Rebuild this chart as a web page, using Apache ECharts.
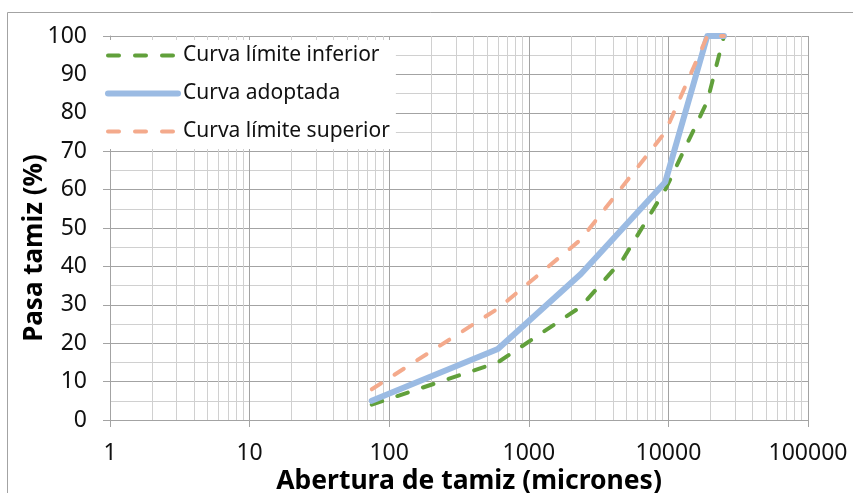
<!DOCTYPE html>
<html><head><meta charset="utf-8">
<script src="https://cdn.jsdelivr.net/npm/echarts@6/dist/echarts.min.js"></script>
<style>html,body{margin:0;padding:0;background:#fff}#c{width:853px;height:493px}</style>
</head><body><div id="c"></div>
<script>
// ---- data ----
const seriesNames = ['Curva límite inferior', 'Curva adoptada', 'Curva límite superior'];
const lowerSieves = [75, 600, 2360, 4750, 9500, 19000, 25000];
const lowerPass   = [4, 15, 29.5, 42, 60, 83, 100];
const adoptedSieves = [75, 600, 2360, 9500, 19000, 25000];
const adoptedPass   = [5, 18.5, 38, 62, 100, 100];
const upperSieves = [75, 600, 2360, 9500, 19000, 25000];
const upperPass   = [8, 29, 47, 75, 100, 100];
const xTickLabels = ['1', '10', '100', '1000', '10000', '100000'];
const xTitle = 'Abertura de tamiz (micrones)';
const yTitle = 'Pasa tamiz (%)';

// minor log gridline values (2..9 of each decade)
const minorX = [];
for (let d = 1; d <= 10000; d *= 10) for (let k = 2; k <= 9; k++) minorX.push(d * k);

const pairs = (xs, ys) => xs.map((x, i) => [x, ys[i]]);
const FONT = '"Noto Sans", "Open Sans", sans-serif';
const MAJOR = '#A3A3A3', MINOR = '#D0D0D0';
const GREEN = '#61A03B', BLUE = '#9BBBE3', SALMON = '#F4AA8C';

const chart = echarts.init(document.getElementById('c'), null, {renderer: 'canvas'});
chart.setOption({
  animation: false,
  backgroundColor: '#fff',
  textStyle: {fontFamily: FONT},
  grid: {left: 110, right: 45, top: 36, bottom: 73, containLabel: false},
  legend: {
    z: 20,
    data: [
      {name: seriesNames[0], itemStyle: {opacity: 0}, lineStyle: {width: 4, type: [11, 16], cap: 'round', color: GREEN}},
      {name: seriesNames[1], itemStyle: {opacity: 0}, lineStyle: {width: 6, type: 'solid', cap: 'round', color: BLUE}},
      {name: seriesNames[2], itemStyle: {opacity: 0}, lineStyle: {width: 4, type: [11, 16], cap: 'round', color: SALMON}}
    ],
    orient: 'vertical',
    left: 101, top: 40,
    itemWidth: 70, itemHeight: 14, itemGap: 17,
    backgroundColor: '#fff',
    padding: [5, 6, 7, 4],
    textStyle: {fontSize: 21, color: '#111', fontFamily: FONT},
    selectedMode: false
  },
  xAxis: {
    type: 'log', logBase: 10, min: 1, max: 100000, splitNumber: 5,
    axisLine: {show: true, lineStyle: {color: MAJOR, width: 1}},
    axisTick: {show: true, length: 7, lineStyle: {color: MAJOR}},
    axisLabel: {
      fontSize: 23, color: '#111', margin: 22, fontFamily: FONT,
      formatter: v => { const e = Math.round(Math.log10(v)); return xTickLabels[e] ?? ''; }
    },
    splitLine: {show: true, lineStyle: {color: MAJOR, width: 1}},
    minorTick: {show: false}, minorSplitLine: {show: false}
  },
  yAxis: {
    type: 'value', min: 0, max: 100, interval: 10,
    axisLine: {show: true, lineStyle: {color: MAJOR, width: 1}},
    axisTick: {show: true, length: 7, lineStyle: {color: MAJOR}},
    axisLabel: {fontSize: 23, color: '#111', margin: 23, fontFamily: FONT},
    splitLine: {show: true, lineStyle: {color: MAJOR, width: 1}},
    minorTick: {show: false, splitNumber: 2},
    minorSplitLine: {show: true, lineStyle: {color: MINOR, width: 1}}
  },
  graphic: [
    {type: 'line', silent: true, shape: {x1: 7.5, y1: 12.5, x2: 853, y2: 12.5}, style: {stroke: MAJOR, lineWidth: 1}},
    {type: 'line', silent: true, shape: {x1: 7.5, y1: 12.5, x2: 7.5, y2: 493}, style: {stroke: MAJOR, lineWidth: 1}},
    {type: 'text', silent: true, x: 469, y: 481,
     style: {text: xTitle, fontSize: 26.5, fontWeight: 'bold', fontFamily: FONT, fill: '#000', align: 'center', verticalAlign: 'middle'}},
    {type: 'text', silent: true, x: 35, y: 248, rotation: Math.PI / 2,
     style: {text: yTitle, fontSize: 26, fontWeight: 'bold', fontFamily: FONT, fill: '#000', align: 'center', verticalAlign: 'middle'}}
  ],
  series: [
    {
      type: 'line', name: '_minor', data: [], z: 1, silent: true,
      markLine: {
        z: 1, silent: true, symbol: ['none', 'none'], label: {show: false},
        lineStyle: {color: MINOR, type: 'solid', width: 1},
        emphasis: {disabled: true}, animation: false,
        data: minorX.map(v => ({xAxis: v}))
      }
    },
    {
      type: 'line', name: seriesNames[0], data: pairs(lowerSieves, lowerPass),
      symbol: 'none', z: 3,
      lineStyle: {color: GREEN, width: 4, type: [11, 16], cap: 'round'},
      itemStyle: {color: GREEN}
    },
    {
      type: 'line', name: seriesNames[1], data: pairs(adoptedSieves, adoptedPass),
      symbol: 'none', z: 4,
      lineStyle: {color: BLUE, width: 6, type: 'solid', cap: 'round', join: 'round'},
      itemStyle: {color: BLUE}
    },
    {
      type: 'line', name: seriesNames[2], data: pairs(upperSieves, upperPass),
      symbol: 'none', z: 5,
      lineStyle: {color: SALMON, width: 4, type: [11, 16], cap: 'round'},
      itemStyle: {color: SALMON}
    }
  ]
});
</script></body></html>
